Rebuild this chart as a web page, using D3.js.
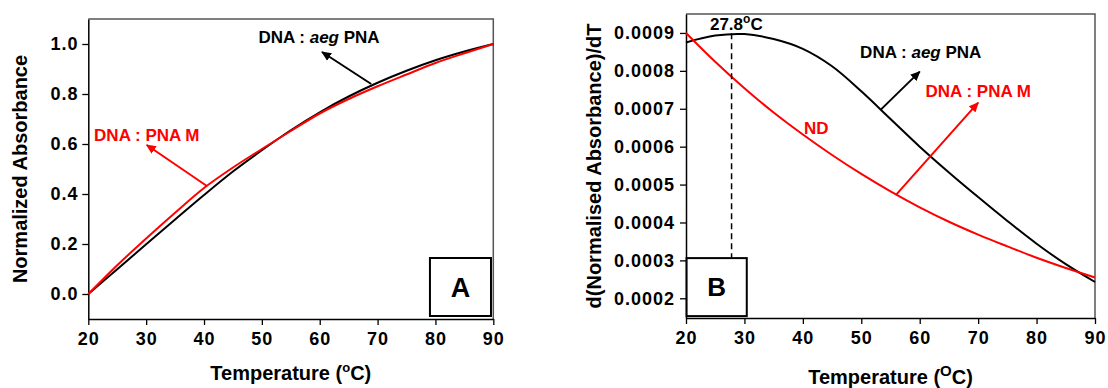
<!DOCTYPE html>
<html>
<head>
<meta charset="utf-8">
<script src="https://cdn.jsdelivr.net/npm/d3@7"></script>
<style>
  body { margin: 0; background: #fff; }
  svg { display: block; font-family: "Liberation Sans", Arial, sans-serif; font-weight: bold; }
</style>
</head>
<body>
<svg id="chart" width="1108" height="388"></svg>
<script>
// temperatures (°C) sampled every 5 degrees
const temps = [20, 25, 30, 35, 40, 45, 50, 55, 60, 65, 70, 75, 80, 85, 90];

// panel A: normalized absorbance
const absAeg = [0, 0.099, 0.199, 0.298, 0.396, 0.49, 0.575, 0.655, 0.727, 0.79, 0.845, 0.893, 0.935, 0.97, 1.0];
const absPnaM = [0, 0.115, 0.222, 0.325, 0.424, 0.506, 0.58, 0.652, 0.722, 0.78, 0.831, 0.878, 0.924, 0.963, 1.0];

// panel B: first derivative d(abs)/dT
const derAeg = [0.000875, 0.000893, 0.000897, 0.000884, 0.000858, 0.000812, 0.000746, 0.000673,
  0.000600, 0.000532, 0.000467, 0.000404, 0.000344, 0.00029, 0.000243];
const derPnaM = [0.0009, 0.000824, 0.000754, 0.00069, 0.000632, 0.000578, 0.000528, 0.000482,
  0.00044, 0.000402, 0.000368, 0.000337, 0.000307, 0.00028, 0.000255];

const xTicks = [20, 30, 40, 50, 60, 70, 80, 90];
const yTicksA = [0.0, 0.2, 0.4, 0.6, 0.8, 1.0];
const yTicksB = [0.0002, 0.0003, 0.0004, 0.0005, 0.0006, 0.0007, 0.0008, 0.0009];
const tmPeak = 27.8;

const svg = d3.select('#chart');
const defs = svg.append('defs');
['black', 'red'].forEach(c => {
  defs.append('marker')
    .attr('id', 'arrow-' + c)
    .attr('viewBox', '0 0 10 10')
    .attr('refX', 9).attr('refY', 5)
    .attr('markerWidth', 5).attr('markerHeight', 5)
    .attr('markerUnits', 'strokeWidth')
    .attr('orient', 'auto')
    .append('path')
    .attr('d', 'M0,0.5 L10,5 L0,9.5 Z')
    .attr('fill', c);
});

function panel(opt) {
  const g = svg.append('g');
  const x = d3.scaleLinear().domain([20, 90]).range([opt.left, opt.right]);
  const y = d3.scaleLinear().domain(opt.yDomain).range([opt.bottom, opt.top]);

  // frame (top / right)
  g.append('path')
    .attr('d', `M${opt.left},${opt.top}H${opt.right}V${opt.bottom}`)
    .attr('fill', 'none').attr('stroke', '#555').attr('stroke-width', 1.5);

  // x axis
  const xAxis = g.append('g').attr('transform', `translate(0,${opt.bottom})`);
  xAxis.call(d3.axisBottom(x).tickValues(d3.range(25, 90, 10)).tickSize(3).tickFormat(''));
  xAxis.call(d3.axisBottom(x).tickValues(xTicks).tickSize(6).tickSizeOuter(0).tickFormat(d3.format('d')));
  xAxis.selectAll('text').attr('font-size', 18).attr('letter-spacing', 1).attr('dy', 0)
    .attr('y', opt.xLabelY - opt.bottom)
    .attr('font-family', '"Liberation Sans", Arial, sans-serif').attr('font-weight', 'bold').attr('fill', '#000');

  // y axis
  const yAxis = g.append('g').attr('transform', `translate(${opt.left},0)`);
  yAxis.call(d3.axisLeft(y).tickValues(opt.yMinor).tickSize(3).tickFormat(''));
  yAxis.call(d3.axisLeft(y).tickValues(opt.yTicks).tickSize(6).tickSizeOuter(0).tickFormat(opt.yFormat));
  yAxis.selectAll('text').attr('font-size', 18).attr('letter-spacing', 1).attr('x', opt.yLabelX - opt.left)
    .attr('font-family', '"Liberation Sans", Arial, sans-serif').attr('font-weight', 'bold').attr('fill', '#000');
  g.selectAll('.domain').attr('stroke', '#000').attr('stroke-width', 1.5);
  g.selectAll('.tick line').attr('stroke', '#000').attr('stroke-width', 1.3);

  // titles
  g.append('text')
    .attr('transform', `translate(${opt.yTitleX},${(opt.top + opt.bottom) / 2}) rotate(-90)`)
    .attr('text-anchor', 'middle').attr('font-size', 20).text(opt.yTitle);
  const xt = g.append('text')
    .attr('x', (opt.left + opt.right) / 2).attr('y', opt.xTitleY)
    .attr('text-anchor', 'middle').attr('font-size', 20);
  xt.append('tspan').text('Temperature (');
  xt.append('tspan').attr('font-size', opt.degSize).attr('dy', -8).text(opt.degGlyph);
  xt.append('tspan').attr('dy', 8).text('C)');

  // curves
  const line = vals => d3.line()
    .x((d, i) => x(temps[i]))
    .y(d => y(d))
    .curve(d3.curveCatmullRom.alpha(0.5))(vals);
  g.append('path').attr('d', line(opt.black)).attr('fill', 'none')
    .attr('stroke', '#000').attr('stroke-width', 2);
  g.append('path').attr('d', line(opt.red)).attr('fill', 'none')
    .attr('stroke', 'red').attr('stroke-width', 2);

  return { g, x, y };
}

// ---------- panel A ----------
const A = panel({
  left: 88.3, right: 493.3, top: 19, bottom: 319,
  yDomain: [-0.1, 1.1], yTicks: yTicksA, yMinor: [0.1, 0.3, 0.5, 0.7, 0.9],
  yFormat: d3.format('.1f'), yLabelX: 78.5, xLabelY: 345,
  yTitle: 'Normalized Absorbance', yTitleX: 26.5, xTitleY: 380,
  degGlyph: 'o', degSize: 13,
  black: absAeg, red: absPnaM
});

function arrow(p, from, to, color) {
  p.g.append('line')
    .attr('x1', p.x(from[0])).attr('y1', p.y(from[1]))
    .attr('x2', p.x(to[0])).attr('y2', p.y(to[1]))
    .attr('stroke', color).attr('stroke-width', 2)
    .attr('marker-end', `url(#arrow-${color})`);
}
function label(p, at, parts, color) {
  const t = p.g.append('text').attr('x', p.x(at[0])).attr('y', p.y(at[1]))
    .attr('font-size', 17).attr('fill', color);
  parts.forEach(s => {
    const ts = t.append('tspan').text(s.t);
    if (s.italic) ts.attr('font-style', 'italic');
  });
  return t;
}
function box(p, x0, x1, y0, y1, letter, size) {
  p.g.append('rect')
    .attr('x', p.x(x0)).attr('y', p.y(y1))
    .attr('width', p.x(x1) - p.x(x0)).attr('height', p.y(y0) - p.y(y1))
    .attr('fill', '#fff').attr('stroke', '#000').attr('stroke-width', 2);
  p.g.append('text')
    .attr('x', (p.x(x0) + p.x(x1)) / 2).attr('y', (p.y(y0) + p.y(y1)) / 2)
    .attr('dy', '0.36em').attr('text-anchor', 'middle').attr('font-size', size).text(letter);
}

arrow(A, [68.9, 0.84], [60.4, 0.968], 'black');
label(A, [49.4, 1.004], [{ t: 'DNA : ' }, { t: 'aeg', italic: true }, { t: ' PNA' }], '#000');
arrow(A, [40.5, 0.432], [30.1, 0.596], 'red');
label(A, [21.0, 0.612], [{ t: 'DNA : PNA M' }], 'red');
box(A, 79.05, 89.6, -0.088, 0.144, 'A', 27);

// ---------- panel B ----------
const B = panel({
  left: 686, right: 1095, top: 14, bottom: 318,
  yDomain: [0.000148, 0.00095], yTicks: yTicksB, yMinor: d3.range(0.00025, 0.00095, 0.0001),
  yFormat: d3.format('.4f'), yLabelX: 675, xLabelY: 344,
  yTitle: 'd(Normalised Absorbance)/dT', yTitleX: 601, xTitleY: 384,
  degGlyph: 'O', degSize: 15,
  black: derAeg, red: derPnaM
});

// dashed marker of the peak temperature
B.g.append('line')
  .attr('x1', B.x(tmPeak)).attr('x2', B.x(tmPeak))
  .attr('y1', B.y(0.000899)).attr('y2', B.y(0.000306))
  .attr('stroke', '#000').attr('stroke-width', 1.5).attr('stroke-dasharray', '6,4');
const peakT = B.g.append('text').attr('x', B.x(24.1)).attr('y', B.y(0.000907)).attr('font-size', 17);
peakT.append('tspan').text(tmPeak.toFixed(1));
peakT.append('tspan').attr('font-size', 12).attr('dy', -7).text('o');
peakT.append('tspan').attr('dy', 7).text('C');

arrow(B, [53.3, 0.000697], [60.0, 0.000798], 'black');
label(B, [49.8, 0.000834], [{ t: 'DNA : ' }, { t: 'aeg', italic: true }, { t: ' PNA' }], '#000');
arrow(B, [55.94, 0.000473], [70.0, 0.000716], 'red');
label(B, [61.0, 0.00073], [{ t: 'DNA : PNA M' }], 'red');
label(B, [40.2, 0.000634], [{ t: 'ND' }], 'red');
box(B, 20.1, 30.4, 0.000153, 0.000306, 'B', 26);
</script>
</body>
</html>
